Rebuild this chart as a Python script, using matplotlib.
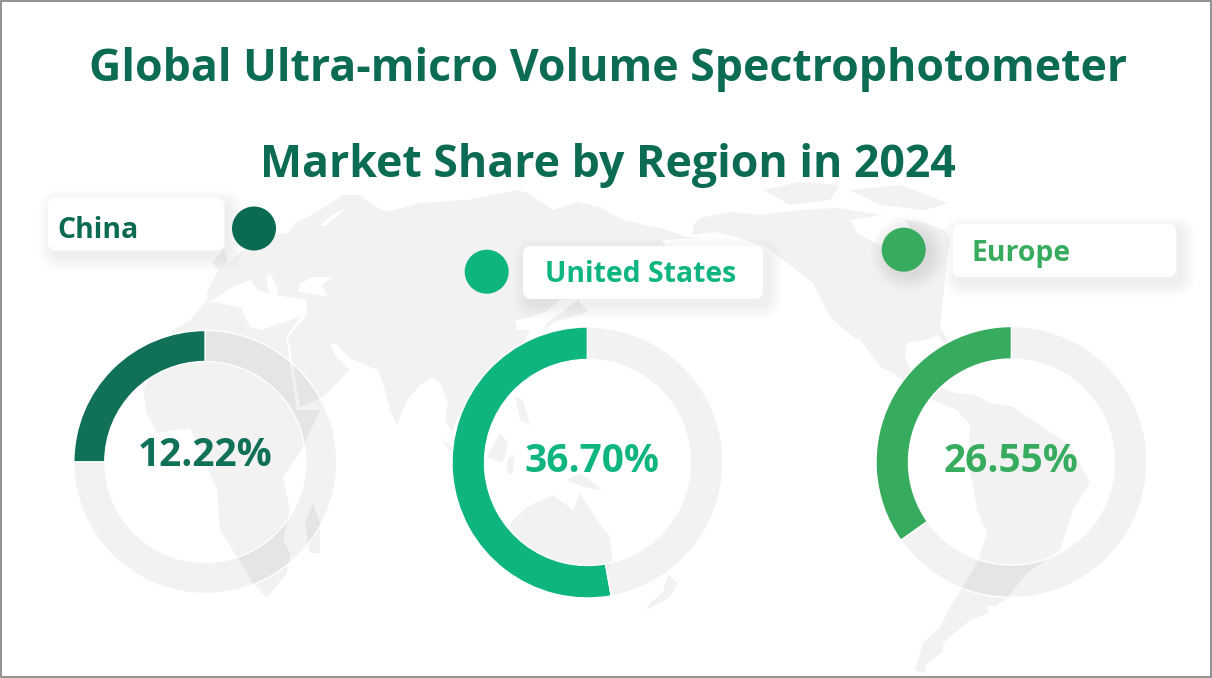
import matplotlib
matplotlib.use("Agg")
import matplotlib.pyplot as plt
from matplotlib.patches import Polygon, FancyBboxPatch, Circle, Rectangle

W, H = 1212, 678
plt.rcParams["font.family"] = ["Open Sans", "DejaVu Sans"]

# data
regions = ["China", "United States", "Europe"]
share_labels = ["12.22%", "36.70%", "26.55%"]
arc_shares = [25.0, 52.8, 34.8]  # the arcs as drawn, they do not follow the labels
colors = ["#0A6B52", "#0EB57F", "#38AC5E"]
ring_colors = ["#107158", "#0EB57F", "#38AC5E"]

title_lines = ["Global Ultra-micro Volume Spectrophotometer", "Market Share by Region in 2024"]

# layout in pixels
ring_x = [205.3, 587.5, 1011.5]
ring_y = [462, 462.5, 462]
ring_r = [131.5, 135.5, 135.5]
ring_in = [100.5, 103, 103]
value_xy = [(205.5, 455), (592, 462), (1011, 462)]
box_xy = [(48, 198, 224.5, 250.5), (523, 246, 763, 299), (953, 224, 1176, 277)]
dot_xy = [(254, 228.5), (486.7, 271.7), (903.7, 249.7)]
dot_shadow_alpha = [0.0015, 0.0, 0.008]
label_xy = [(57, 230), (545, 275), (971, 253)]

# background map, rough outlines
eurasia = [(208, 302), (207, 292), (217, 273), (240, 253), (258, 236), (288, 233), (295, 223), (317, 212),
           (343, 195), (360, 195), (377, 207), (387, 212), (420, 203), (467, 200), (517, 190), (528, 193),
           (553, 210), (577, 202), (600, 207), (623, 220), (667, 230), (687, 237), (700, 238), (662, 240),
           (670, 252), (640, 275), (600, 290), (580, 298), (560, 300), (545, 312), (528, 318), (515, 320),
           (517, 330), (530, 330), (522, 345), (510, 350), (490, 372), (478, 395), (470, 420), (458, 415),
           (452, 432), (445, 420), (448, 403), (440, 383), (433, 377), (420, 385), (407, 400), (397, 425),
           (390, 410), (385, 390), (378, 370), (365, 365), (350, 358), (337, 345), (330, 343), (335, 355),
           (350, 370), (323, 397), (300, 407), (288, 337), (307, 315), (300, 300), (250, 290)]
africa = [(207, 300), (190, 320), (173, 330), (143, 390), (147, 413), (157, 433), (190, 428), (207, 467),
          (217, 490), (220, 530), (237, 557), (253, 583), (267, 598), (287, 573), (290, 553), (283, 540),
          (290, 510), (283, 477), (303, 447), (320, 410), (297, 410), (286, 337), (303, 313), (250, 310)]
madagascar = [(313, 503), (305, 523), (310, 553), (320, 553), (320, 523)]
america = [(693, 225), (700, 218), (730, 212), (760, 215), (800, 210), (840, 208), (880, 215), (920, 222),
           (945, 230), (950, 240), (945, 277), (942, 310), (940, 327), (948, 340), (945, 345), (938, 335),
           (925, 340), (907, 343), (905, 358), (912, 372), (925, 385), (943, 388), (955, 393), (975, 395),
           (990, 403), (1013, 407), (1043, 427), (1070, 445), (1090, 483), (1073, 510), (1060, 550),
           (1027, 573), (1007, 598), (995, 607), (988, 605), (988, 613), (970, 620), (958, 630), (943, 643),
           (943, 652), (927, 663), (925, 673), (915, 670), (923, 643), (940, 627), (950, 607), (977, 563),
           (987, 533), (977, 510), (973, 483), (968, 467), (970, 425), (957, 410), (937, 402), (907, 383),
           (893, 373), (880, 367), (857, 340), (830, 317), (813, 283), (767, 247), (740, 238), (715, 232),
           (693, 235)]
australia = [(510, 523), (527, 507), (553, 495), (573, 510), (580, 493), (597, 520), (610, 537), (612, 560),
             (600, 585), (570, 580), (540, 565), (510, 570)]
islands = [[(668, 575), (678, 583), (670, 597), (647, 610), (648, 605), (663, 592)],
           [(567, 480), (580, 473), (603, 490), (583, 487)],
           [(487, 457), (500, 433), (508, 443), (503, 463)],
           [(515, 397), (523, 400), (530, 425), (520, 420)],
           [(440, 438), (450, 445), (465, 462), (458, 462)],
           [(508, 458), (515, 455), (512, 475), (507, 472)],
           [(588, 312), (575, 316), (555, 322), (543, 330), (548, 322), (565, 310), (578, 300)],
           [(763, 190), (800, 182), (840, 185), (830, 200), (790, 205)],
           [(850, 190), (900, 185), (948, 203), (925, 210), (880, 205)],
           [(212, 262), (224, 250), (228, 262), (220, 272)]]
seas = [[(208, 303), (228, 300), (240, 302), (243, 313), (250, 327), (263, 330), (280, 323), (307, 315),
         (306, 300), (290, 297), (278, 296), (277, 287), (270, 273), (266, 278), (270, 295), (258, 290),
         (250, 280), (233, 287)],
        [(298, 292), (300, 283), (313, 277), (332, 277), (322, 285), (328, 297), (313, 294)],
        [(320, 225), (335, 213), (347, 208), (335, 218), (325, 226)],
        [(850, 220), (857, 233), (873, 242), (890, 248), (918, 240), (905, 220), (880, 215)],
        [(858, 337), (880, 366), (876, 366), (856, 340)]]

fig = plt.figure(figsize=(W / 100, H / 100), dpi=100)

# map goes under the rings, labels and title over them
map_ax = fig.add_axes([0, 0, 1, 1], zorder=0)
map_ax.set_xlim(0, W)
map_ax.set_ylim(H, 0)
map_ax.axis("off")
for poly in [eurasia, africa, madagascar, america, australia] + islands:
    map_ax.add_patch(Polygon(poly, closed=True, fc="#f2f2f2", ec="none", zorder=1))
for poly in seas:
    map_ax.add_patch(Polygon(poly, closed=True, fc="white", ec="none", zorder=2))

ax = fig.add_axes([0, 0, 1, 1], zorder=2)
ax.set_xlim(0, W)
ax.set_ylim(H, 0)
ax.axis("off")
ax.patch.set_alpha(0)

# soft shadows
def box_shadow(x0, y0, x1, y1):
    for i in range(16):
        g = 30 - i * 1.9
        ax.add_patch(FancyBboxPatch((x0 + 5 - g / 2, y0 + 6 - g / 2), x1 - x0 + g, y1 - y0 + g,
                                    boxstyle="round,pad=0,rounding_size=%f" % (8 + g / 2),
                                    fc="black", ec="none", alpha=0.0045, zorder=3))

def dot_shadow(x, y, r, alpha):
    if alpha == 0:
        return
    for i in range(12):
        ax.add_patch(Circle((x + 5, y + 4), r + 16 - i * 1.4, fc="black", ec="none", alpha=alpha, zorder=3))

for i, name in enumerate(regions):
    x0, y0, x1, y1 = box_xy[i]
    box_shadow(x0, y0, x1, y1)
    ax.add_patch(FancyBboxPatch((x0, y0), x1 - x0, y1 - y0, boxstyle="round,pad=0,rounding_size=8",
                                fc="white", ec="none", zorder=4))
    ax.text(label_xy[i][0], label_xy[i][1], name, color=colors[i], fontsize=20.4, fontweight="bold",
            va="center", ha="left", zorder=5)
    dot_shadow(dot_xy[i][0], dot_xy[i][1], 22, dot_shadow_alpha[i])
    ax.add_patch(Circle(dot_xy[i], 22, fc=colors[i], ec="none", zorder=5))

ax.text(608, 70, title_lines[0], color="#0B6B53", fontsize=32.1, fontweight="bold", ha="center", va="center", zorder=6)
ax.text(608, 166, title_lines[1], color="#0B6B53", fontsize=32.1, fontweight="bold", ha="center", va="center", zorder=6)

# rings
for i, share in enumerate(arc_shares):
    size = ring_r[i] * 1.25
    rax = fig.add_axes([(ring_x[i] - size) / W, 1 - (ring_y[i] + size) / H, 2 * size / W, 2 * size / H], zorder=1)
    rax.patch.set_alpha(0)
    rax.pie([share, 100 - share], colors=[ring_colors[i], (0, 0, 0, 0.05)], startangle=90, counterclock=True,
            radius=1, wedgeprops=dict(width=1 - ring_in[i] / ring_r[i], edgecolor="white", linewidth=1))
    ax.text(value_xy[i][0], value_xy[i][1], share_labels[i], color=ring_colors[i], fontsize=28, fontweight="bold",
            ha="center", va="center", zorder=6)

# frame
ax.add_patch(Rectangle((0.5, 0.5), W - 1.5, H - 1.5, fc="none", ec="#7f7f7f", lw=1.2, zorder=7))

fig.savefig("out.png", dpi=100, facecolor="white")
